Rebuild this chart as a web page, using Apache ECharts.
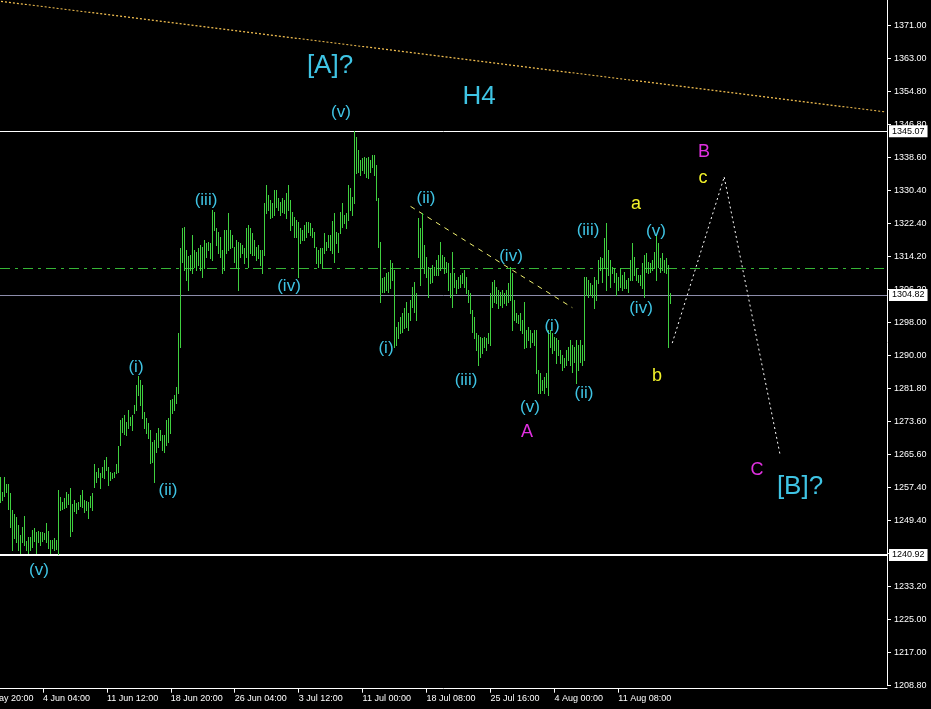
<!DOCTYPE html>
<html><head><meta charset="utf-8">
<script src="https://cdn.jsdelivr.net/npm/echarts@6/dist/echarts.min.js"></script>
<style>html,body{margin:0;padding:0;background:#000;}#c{width:931px;height:709px;}</style>
</head><body><div id="c"></div>
<script>
// H4 bars: high / low per bar
const highs = [
1260.1,1256.4,1260.1,1258.4,1258.4,1256.2,1252.0,1251.0,1250.2,1248.3,
1245.8,1247.8,1250.5,1244.4,1245.4,1245.4,1247.1,1247.6,1246.6,1246.8,
1246.6,1246.6,1246.3,1248.8,1246.8,1244.6,1244.6,1245.1,1244.6,1256.9,
1255.2,1253.9,1254.9,1256.4,1255.9,1257.4,1253.5,1254.4,1253.7,1253.9,
1255.7,1256.9,1254.4,1254.2,1253.9,1255.4,1256.2,1263.3,1261.3,1262.3,
1261.1,1262.5,1264.3,1265.0,1262.5,1261.3,1261.1,1261.3,1263.3,1267.7,
1274.1,1274.6,1275.3,1273.6,1276.6,1274.8,1275.3,1277.8,1282.7,1284.9,
1283.9,1282.7,1276.1,1274.6,1273.4,1271.6,1268.7,1269.2,1270.9,1272.1,
1271.6,1270.4,1270.4,1274.1,1274.6,1279.0,1279.3,1280.2,1282.2,1295.5,
1316.4,1321.3,1321.5,1315.9,1314.4,1314.6,1319.6,1315.9,1315.4,1316.4,
1317.1,1316.6,1318.3,1317.6,1317.8,1317.6,1325.7,1325.2,1321.3,1320.3,
1319.1,1315.9,1320.8,1320.8,1325.0,1320.8,1319.6,1316.6,1318.3,1317.8,
1317.6,1317.1,1316.4,1321.3,1322.0,1321.3,1320.1,1318.3,1316.6,1317.1,
1315.9,1315.9,1327.4,1331.9,1329.4,1328.2,1327.4,1330.6,1330.6,1328.7,
1327.7,1328.7,1328.2,1329.9,1331.9,1328.2,1325.2,1324.0,1323.3,1322.8,
1321.3,1320.8,1322.0,1322.8,1322.8,1322.5,1321.3,1320.3,1316.6,1315.9,
1316.4,1316.4,1320.1,1317.8,1319.6,1319.6,1323.0,1325.0,1320.3,1320.1,
1325.2,1327.4,1324.5,1325.0,1331.9,1331.1,1328.9,1345.1,1343.6,1340.5,
1338.0,1338.5,1338.7,1338.5,1338.7,1338.0,1339.2,1339.2,1336.8,1328.7,
1317.8,1309.0,1309.2,1310.2,1310.5,1313.4,1312.7,1311.0,1297.0,1298.2,
1299.4,1300.4,1301.6,1303.1,1300.4,1303.6,1306.8,1308.0,1305.3,1323.7,
1321.3,1325.0,1317.1,1314.2,1311.7,1311.5,1312.2,1311.7,1313.4,1314.6,
1317.8,1314.6,1314.2,1312.9,1312.7,1310.2,1315.4,1310.2,1308.5,1309.2,
1309.7,1310.2,1311.0,1309.2,1306.1,1305.3,1301.1,1299.4,1295.5,1295.0,
1294.5,1294.3,1294.5,1294.3,1295.5,1305.3,1308.0,1308.5,1306.8,1306.1,
1305.6,1306.1,1305.3,1306.1,1307.8,1311.7,1310.2,1303.6,1300.4,1299.9,
1300.4,1298.7,1303.1,1296.2,1297.0,1296.2,1295.5,1296.2,1296.2,1286.4,
1285.7,1283.9,1284.7,1285.7,1296.2,1296.2,1295.5,1294.5,1294.3,1293.8,
1291.3,1290.1,1289.3,1291.3,1292.0,1293.8,1292.5,1292.0,1293.8,1292.5,
1293.8,1292.5,1309.2,1309.2,1308.5,1307.8,1307.3,1309.2,1308.5,1313.4,
1314.2,1313.9,1318.8,1322.5,1315.9,1313.4,1311.7,1311.5,1310.2,1309.2,
1311.5,1309.7,1310.5,1308.5,1309.0,1313.4,1317.6,1314.2,1311.5,1309.7,
1309.7,1312.7,1314.6,1315.1,1312.9,1312.7,1313.4,1315.4,1319.6,1317.6,
1313.9,1315.1,1313.4,1313.9,1312.2,1305.3
];
const lows = [
1253.9,1254.4,1255.4,1256.4,1252.2,1247.8,1242.2,1245.1,1244.1,1242.2,
1241.4,1244.1,1243.4,1242.2,1241.4,1242.2,1242.9,1244.4,1241.4,1244.1,
1243.4,1244.4,1244.9,1244.1,1242.6,1241.4,1242.6,1242.2,1242.4,1241.2,
1252.0,1252.2,1252.5,1252.7,1253.5,1245.6,1246.8,1251.7,1251.2,1252.2,
1253.0,1252.7,1251.5,1252.0,1250.0,1252.7,1252.0,1257.6,1258.9,1260.1,
1257.4,1260.1,1259.8,1261.8,1258.1,1259.4,1259.8,1260.1,1261.1,1261.3,
1268.0,1271.2,1270.7,1270.4,1272.1,1272.9,1271.6,1275.8,1276.6,1280.2,
1277.8,1274.6,1272.1,1270.9,1269.7,1263.5,1263.8,1258.9,1266.2,1267.5,
1269.2,1266.7,1266.2,1268.0,1268.7,1270.9,1275.8,1276.6,1278.3,1280.7,
1292.0,1312.9,1311.0,1308.5,1306.1,1311.0,1310.2,1311.7,1311.0,1312.2,
1311.0,1309.2,1311.5,1314.2,1315.9,1313.9,1313.4,1320.8,1317.1,1315.1,
1314.2,1310.2,1311.0,1315.1,1315.9,1316.4,1316.6,1312.9,1311.7,1306.1,
1314.2,1315.1,1312.7,1314.2,1311.7,1315.1,1314.6,1314.6,1313.4,1313.9,
1312.2,1310.2,1314.6,1325.0,1325.7,1323.7,1324.0,1324.5,1326.4,1325.7,
1324.5,1325.2,1325.0,1323.7,1325.7,1320.8,1322.0,1319.1,1319.1,1309.2,
1317.6,1318.3,1318.3,1319.1,1320.3,1319.6,1319.1,1316.6,1312.7,1311.7,
1312.7,1311.5,1315.1,1315.9,1316.6,1315.9,1315.1,1312.9,1317.6,1315.4,
1320.1,1321.5,1322.5,1321.3,1323.3,1325.7,1324.5,1327.4,1334.8,1335.1,
1334.3,1335.5,1334.8,1333.8,1333.6,1335.1,1336.3,1334.3,1328.2,1316.6,
1303.1,1305.6,1305.6,1306.1,1305.6,1306.5,1308.5,1292.0,1292.5,1294.3,
1295.5,1295.7,1296.7,1297.0,1296.2,1298.7,1301.9,1300.6,1298.7,1314.2,
1307.3,1311.7,1310.2,1309.2,1304.3,1307.8,1308.0,1309.7,1309.7,1309.7,
1311.0,1311.7,1310.2,1310.5,1306.1,1304.3,1301.9,1306.8,1305.3,1306.5,
1306.8,1307.8,1306.8,1305.3,1303.1,1300.4,1295.7,1294.3,1291.3,1287.6,
1289.6,1290.6,1292.0,1291.3,1293.0,1292.5,1301.9,1303.1,1302.9,1301.6,
1302.4,1301.9,1302.9,1302.4,1303.1,1303.6,1296.2,1298.7,1298.2,1297.9,
1296.2,1295.5,1291.8,1292.0,1293.8,1292.0,1293.3,1292.5,1285.7,1280.7,
1280.7,1281.5,1280.7,1282.2,1280.2,1292.0,1290.6,1291.3,1288.1,1290.1,
1288.1,1286.4,1287.1,1287.6,1288.8,1287.6,1285.9,1288.4,1283.2,1286.4,
1288.4,1287.6,1288.8,1304.8,1304.3,1304.8,1304.3,1301.6,1303.6,1307.8,
1311.0,1308.0,1311.5,1306.1,1309.7,1306.8,1310.2,1308.0,1304.8,1306.1,
1306.8,1306.1,1306.5,1306.5,1305.6,1308.5,1308.5,1309.7,1308.5,1308.0,
1307.3,1306.5,1304.3,1310.5,1310.2,1310.5,1311.0,1311.5,1308.5,1311.7,
1310.5,1311.0,1310.5,1310.2,1292.0,1302.9
];
// time axis labels: every 32 bars, first one (bar -11) is cut off at the left edge
const xTickLabels = ['28 May 20:00','4 Jun 04:00','11 Jun 12:00','18 Jun 20:00','26 Jun 04:00','3 Jul 12:00','11 Jul 00:00','18 Jul 08:00','25 Jul 16:00','4 Aug 00:00','11 Aug 08:00'];
const xTickFirstBar = -11, xTickStep = 32, barSlots = 444;
// price axis labels from bottom to top
const yTickLabels = ['1208.80','1217.00','1225.00','1233.20','','1249.40','1257.40','1265.60','1273.60','1281.80','1290.00','1298.00','1306.20','1314.20','1322.40','1330.40','1338.60','1346.80','1354.80','1363.00','1371.00'];
const yMin = 1208.8, yMax = 1377.32, yStep = 8.11;
// horizontal levels
const levelTop = 1345.07, levelBid = 1304.82, levelBottom = 1240.92, levelMid = 1311.4;
// drawn lines [barIndex, price]
const trendTop = [[0, 1377.0], [443, 1349.8]];
const trendWave = [[205, 1326.6], [286, 1301.7]];
const projection = [[336, 1293.0], [362, 1333.8], [390, 1265.5]];

const cats = Array.from({length: barSlots}, (_, i) => String(i));
const bars = highs.map((h, i) => [i, h, lows[i]]);
const labelAt = idx => {
  const k = (idx - xTickFirstBar) / xTickStep;
  return Number.isInteger(k) && k >= 0 && k < xTickLabels.length ? xTickLabels[k] : null;
};
const isTick = idx => labelAt(idx) !== null;

const chart = echarts.init(document.getElementById('c'), null, {renderer: 'canvas'});
const CYAN = '#3fc4e4', MAG = '#e030e0', YEL = '#f2f22a';
const FONT = '"Liberation Sans", Arial, sans-serif';
function txt(s, x, y, size, color) {
  return {type: 'text', x: x, y: y, z: 50, silent: true,
    style: {text: s, fill: color, font: size + 'px ' + FONT, textAlign: 'center', textVerticalAlign: 'middle'}};
}
function priceTag(v, label, lineStyle) {
  return {yAxis: v, lineStyle: lineStyle,
    label: {show: true, position: 'end', formatter: label, distance: 2, backgroundColor: '#fff', color: '#000',
      fontSize: 9, fontFamily: FONT, padding: [2, 3, 1, 3]}};
}
const option = {
  backgroundColor: '#000',
  animation: false,
  grid: {left: 0, right: 44, top: 0, bottom: 23.3, containLabel: false},
  xAxis: {
    type: 'category', data: cats, boundaryGap: true, offset: 3,
    axisLine: {show: true, lineStyle: {color: '#fff', width: 1}},
    axisTick: {show: true, alignWithLabel: true, length: 4, interval: (i) => isTick(i), lineStyle: {color: '#fff'}},
    axisLabel: {show: true, interval: (i) => isTick(i), color: '#fff', fontSize: 9, fontFamily: FONT, align: 'left', margin: 5,
      formatter: (v) => labelAt(Number(v)) || ''},
    splitLine: {show: false}
  },
  yAxis: {
    type: 'value', position: 'right', min: yMin, max: yMax, interval: yStep, scale: true,
    axisLine: {show: true, onZero: false, lineStyle: {color: '#fff', width: 1}},
    axisTick: {show: true, length: 4, lineStyle: {color: '#fff'}},
    axisLabel: {show: true, color: '#fff', fontSize: 9, fontFamily: FONT, margin: 7, showMaxLabel: false,
      formatter: v => { const k = Math.round((v - yMin) / yStep); return yTickLabels[k] || ''; }},
    splitLine: {show: false}
  },
  series: [{
    type: 'custom', z: 3,
    data: bars,
    encode: {x: 0, y: [1, 2]},
    clip: true,
    renderItem: (params, api) => {
      const i = api.value(0);
      const a = api.coord([i, api.value(1)]);
      const b = api.coord([i, api.value(2)]);
      const x = Math.floor(a[0]) + 0.5;
      return {type: 'line', shape: {x1: x, y1: Math.round(a[1]), x2: x, y2: Math.round(b[1]) + 1},
        style: {stroke: '#3fd03f', lineWidth: 1}};
    },
    markLine: {
      symbol: 'none', silent: true, animation: false, z: 2,
      label: {show: false},
      data: [
        priceTag(levelTop, '1345.07', {color: '#fff', width: 1, type: 'solid'}),
        priceTag(levelBid, '1304.82', {color: '#8c8caa', width: 1, type: 'solid'}),
        priceTag(levelBottom, '1240.92', {color: '#fff', width: 2, type: 'solid'}),
        {yAxis: levelMid, lineStyle: {color: '#36b636', width: 1, type: [10, 5, 3, 5]}, label: {show: false}},
        [{coord: trendTop[0], lineStyle: {color: '#f4c050', width: 1.2, type: [2, 2]}, label: {show: false}}, {coord: trendTop[1]}],
        [{coord: trendWave[0], lineStyle: {color: '#f0f070', width: 1, type: [5, 5]}, label: {show: false}}, {coord: trendWave[1]}],
        [{coord: projection[0], lineStyle: {color: '#fff', width: 1, type: [2, 3]}, label: {show: false}}, {coord: projection[1]}],
        [{coord: projection[1], lineStyle: {color: '#fff', width: 1, type: [2, 3]}, label: {show: false}}, {coord: projection[2]}]
      ]
    }
  }],
  graphic: [
    {type: 'text', x: -21, y: 699, silent: true,
      style: {text: xTickLabels[0], fill: '#fff', font: '9px ' + FONT, textAlign: 'left', textVerticalAlign: 'middle'}},
    txt('(v)', 39, 570, 17, CYAN),
    txt('(i)', 136, 367, 17, CYAN),
    txt('(ii)', 168, 490, 17, CYAN),
    txt('(iii)', 206, 200, 17, CYAN),
    txt('(iv)', 289, 286, 17, CYAN),
    txt('[A]?', 330, 66, 26, CYAN),
    txt('(v)', 341, 112, 17, CYAN),
    txt('H4', 479, 97, 26, CYAN),
    txt('(i)', 386, 348, 17, CYAN),
    txt('(ii)', 426, 198, 17, CYAN),
    txt('(iii)', 466, 380, 17, CYAN),
    txt('(iv)', 511, 256, 17, CYAN),
    txt('(v)', 530, 407, 17, CYAN),
    txt('(i)', 552, 326, 17, CYAN),
    txt('(ii)', 584, 393, 17, CYAN),
    txt('(iii)', 588, 230, 17, CYAN),
    txt('(iv)', 641, 308, 17, CYAN),
    txt('(v)', 656, 231, 17, CYAN),
    txt('A', 527, 432, 18, MAG),
    txt('B', 704, 152, 18, MAG),
    txt('C', 757, 470, 18, MAG),
    txt('a', 636, 204, 18, YEL),
    txt('b', 657, 376, 18, YEL),
    txt('c', 703, 178, 18, YEL),
    txt('[B]?', 800, 487, 26, CYAN)
  ]
};
chart.setOption(option);
</script>
</body></html>
